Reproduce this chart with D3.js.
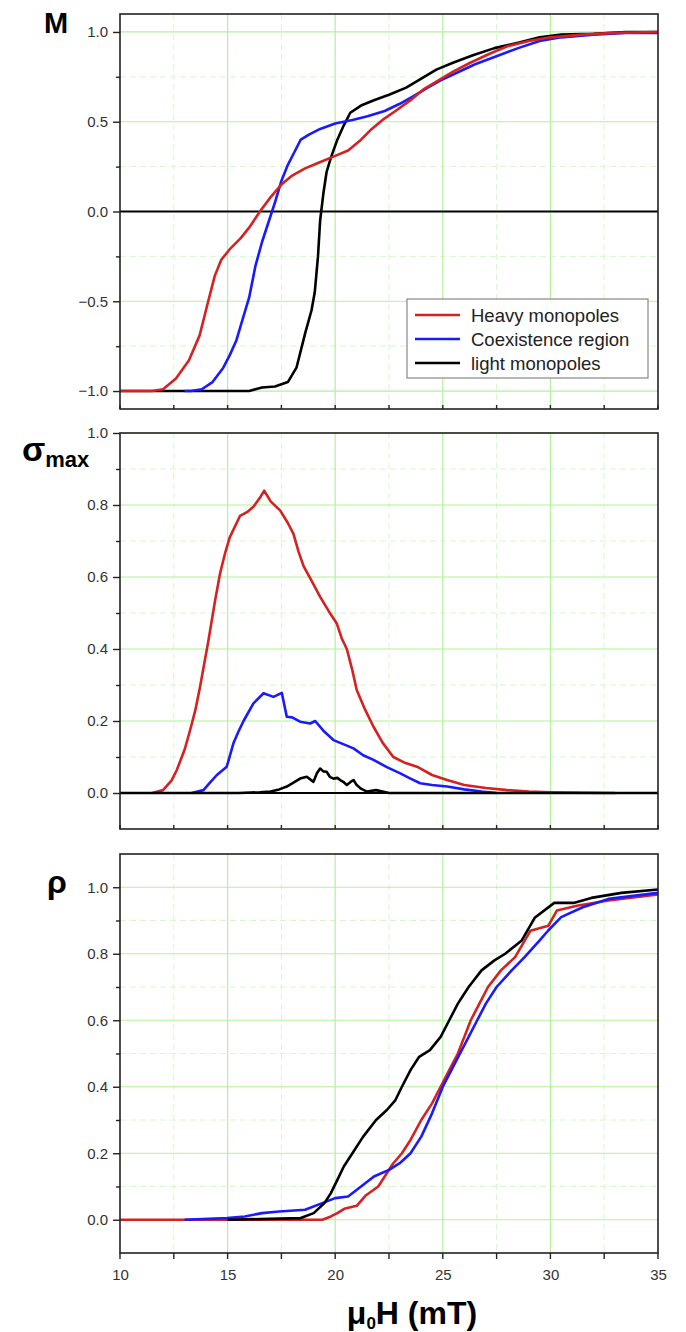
<!DOCTYPE html>
<html>
<head>
<meta charset="utf-8">
<script src="https://cdnjs.cloudflare.com/ajax/libs/d3/7.8.5/d3.min.js"></script>
<style>
  body { margin: 0; background: #fff; }
  svg text { font-family: Arial, "Liberation Sans", sans-serif; }
</style>
</head>
<body>
<div id="chart"></div>
<script>
// Series names and colours (legend order)
var seriesNames = ['Heavy monopoles', 'Coexistence region', 'light monopoles'];
var seriesColors = ['#d42222', '#1a1aff', '#000000'];

// Magnetisation M vs field (mT)
var mHeavy = [[10,-1],[11.5,-1],[12.0,-0.99],[12.6,-0.93],[13.2,-0.83],[13.7,-0.69],[14.1,-0.5],[14.4,-0.36],[14.7,-0.27],[15.1,-0.21],[15.6,-0.15],[16.0,-0.09],[16.5,0.0],[17.0,0.08],[17.5,0.15],[18.0,0.2],[18.6,0.24],[19.2,0.27],[20.0,0.31],[20.6,0.34],[21.2,0.4],[21.7,0.46],[22.2,0.51],[22.8,0.56],[23.5,0.62],[24.1,0.68],[24.8,0.73],[25.5,0.78],[26.3,0.83],[27.2,0.88],[28.0,0.92],[29.0,0.95],[30.0,0.97],[31.5,0.985],[33,0.995],[35,1.0]];
var mCoex = [[13.0,-1],[13.3,-1],[13.8,-0.99],[14.3,-0.95],[14.8,-0.87],[15.1,-0.8],[15.4,-0.72],[15.7,-0.6],[16.0,-0.48],[16.3,-0.3],[16.6,-0.17],[16.9,-0.06],[17.2,0.05],[17.5,0.17],[17.8,0.26],[18.1,0.33],[18.4,0.4],[18.8,0.43],[19.3,0.46],[20.0,0.49],[20.8,0.51],[21.5,0.53],[22.3,0.56],[23.0,0.6],[23.6,0.64],[24.3,0.69],[24.9,0.73],[25.6,0.77],[26.5,0.82],[27.4,0.86],[28.5,0.91],[29.5,0.95],[30.5,0.97],[32,0.985],[33.5,0.995],[35,0.995]];
var mLight = [[10,-1],[16.0,-1],[16.6,-0.98],[17.2,-0.975],[17.8,-0.95],[18.2,-0.87],[18.6,-0.68],[18.9,-0.55],[19.05,-0.45],[19.2,-0.25],[19.3,-0.05],[19.45,0.1],[19.6,0.22],[19.8,0.3],[20.1,0.4],[20.4,0.48],[20.7,0.55],[21.2,0.59],[21.8,0.62],[22.5,0.65],[23.3,0.69],[24.0,0.74],[24.7,0.79],[25.5,0.83],[26.4,0.87],[27.4,0.91],[28.5,0.94],[29.5,0.97],[30.5,0.985],[32,0.99],[33.5,1.0],[35,1.0]];

// sigma_max vs field
var sHeavy = [[11.5,0],[12.0,0.008],[12.4,0.035],[12.64,0.064],[13.0,0.12],[13.26,0.175],[13.5,0.23],[13.72,0.295],[14.1,0.42],[14.42,0.535],[14.65,0.61],[14.9,0.67],[15.1,0.71],[15.58,0.77],[15.9,0.78],[16.2,0.795],[16.5,0.82],[16.7,0.84],[17.0,0.81],[17.44,0.785],[17.8,0.75],[18.06,0.72],[18.3,0.67],[18.53,0.63],[18.9,0.59],[19.3,0.545],[19.7,0.505],[20.08,0.47],[20.3,0.43],[20.54,0.4],[20.8,0.34],[21.0,0.286],[21.4,0.23],[21.78,0.184],[22.2,0.14],[22.7,0.1],[23.2,0.085],[23.8,0.073],[24.5,0.05],[25.2,0.036],[26,0.022],[27,0.014],[28,0.008],[29,0.004],[30,0.002],[31,0.001],[33,0]];
var sCoex = [[13.33,0],[13.88,0.008],[14.2,0.03],[14.5,0.05],[14.96,0.073],[15.27,0.138],[15.5,0.17],[15.74,0.2],[16.2,0.249],[16.67,0.277],[17.13,0.267],[17.52,0.278],[17.75,0.212],[18.0,0.21],[18.37,0.198],[18.84,0.193],[19.07,0.2],[19.5,0.17],[19.92,0.147],[20.4,0.135],[20.85,0.124],[21.3,0.105],[21.78,0.092],[22.4,0.072],[23.0,0.055],[23.5,0.04],[23.95,0.027],[24.5,0.022],[25.2,0.018],[26,0.01],[26.8,0.004],[27.5,0]];
var sLight = [[10,0],[15.5,0],[16.5,0.002],[17.0,0.004],[17.4,0.01],[17.75,0.018],[18.1,0.03],[18.37,0.04],[18.68,0.045],[18.99,0.031],[19.15,0.055],[19.3,0.068],[19.45,0.06],[19.6,0.059],[19.75,0.045],[19.92,0.04],[20.1,0.042],[20.23,0.036],[20.4,0.03],[20.54,0.022],[20.7,0.03],[20.85,0.036],[21.0,0.022],[21.2,0.012],[21.47,0.004],[21.9,0.008],[22.5,0],[35,0]];

// rho vs field
var rHeavy = [[10,0],[19.4,0],[19.8,0.01],[20.1,0.02],[20.42,0.033],[21.0,0.042],[21.4,0.072],[22.0,0.1],[22.3,0.13],[22.7,0.17],[23.1,0.2],[23.5,0.24],[24.0,0.3],[24.5,0.35],[24.9,0.4],[25.3,0.45],[25.7,0.5],[26.0,0.55],[26.3,0.6],[26.7,0.65],[27.1,0.7],[27.7,0.75],[28.36,0.79],[29.07,0.869],[29.9,0.884],[30.3,0.93],[31.29,0.945],[32.7,0.96],[35,0.978]];
var rCoex = [[13,0],[14.97,0.005],[15.8,0.01],[16.6,0.02],[17.4,0.025],[18.6,0.03],[19.4,0.05],[20.0,0.065],[20.6,0.07],[21.2,0.1],[21.8,0.13],[22.5,0.15],[23.0,0.17],[23.5,0.2],[24.0,0.25],[24.5,0.32],[25.0,0.4],[25.4,0.45],[25.8,0.5],[26.2,0.55],[26.6,0.6],[27.0,0.65],[27.5,0.7],[28.2,0.75],[28.8,0.79],[29.5,0.84],[29.9,0.87],[30.5,0.91],[31.5,0.94],[32.7,0.965],[35,0.983]];
var rLight = [[15,0],[16.5,0.002],[18.4,0.005],[19.0,0.02],[19.5,0.05],[19.8,0.08],[20.1,0.12],[20.4,0.16],[20.8,0.2],[21.3,0.25],[21.9,0.3],[22.4,0.33],[22.8,0.36],[23.1,0.4],[23.5,0.45],[23.9,0.49],[24.4,0.51],[24.9,0.55],[25.3,0.6],[25.7,0.65],[26.2,0.7],[26.8,0.75],[27.4,0.78],[27.9,0.8],[28.67,0.84],[29.27,0.908],[30.18,0.953],[31.08,0.953],[31.9,0.968],[33.3,0.983],[35,0.993]];

// Tick values
var xTicks = [10, 15, 20, 25, 30, 35];
var xMinor = [12.5, 17.5, 22.5, 27.5, 32.5];
var mTicks = [-1.0, -0.5, 0.0, 0.5, 1.0];
var mMinor = [-0.75, -0.25, 0.25, 0.75];
var sTicks = [0.0, 0.2, 0.4, 0.6, 0.8, 1.0];
var sMinor = [0.1, 0.3, 0.5, 0.7, 0.9];
var rTicks = [0.0, 0.2, 0.4, 0.6, 0.8, 1.0];
var rMinor = [0.1, 0.3, 0.5, 0.7, 0.9];

var svgWidth = 686, svgHeight = 1332;
var left = 120, right = 658;

var svg = d3.select('#chart')
  .append('svg')
    .attr('width', svgWidth)
    .attr('height', svgHeight);

svg.append('rect').attr('width', svgWidth).attr('height', svgHeight).attr('fill', '#fff');

var x = d3.scaleLinear().domain([10, 35]).range([left, right]);

// panel list: domain, pixel range, ticks, series (drawn in order), zero line
var panels = [
  {domain: [-1.1, 1.1], range: [409, 14], ticks: mTicks, minor: mMinor, series: [mLight, mCoex, mHeavy], order: [2, 1, 0], zero: true},
  {domain: [-0.1, 1.0], range: [829, 433], ticks: sTicks, minor: sMinor, series: [sHeavy, sCoex, sLight], order: [0, 1, 2], zero: true},
  {domain: [-0.1, 1.1], range: [1253, 854], ticks: rTicks, minor: rMinor, series: [rHeavy, rCoex, rLight], order: [0, 1, 2], zero: false}
];

var line = d3.line();

panels.forEach(function(p, i) {
  var y = d3.scaleLinear().domain(p.domain).range(p.range);
  var g = svg.append('g');
  var top = p.range[1], bottom = p.range[0];

  // minor (dashed) grid
  g.selectAll('.vminor').data(xMinor).enter().append('line')
    .attr('x1', function(d) { return x(d); }).attr('x2', function(d) { return x(d); })
    .attr('y1', top).attr('y2', bottom)
    .attr('stroke', '#d6f7cc').attr('stroke-width', 1).attr('stroke-dasharray', '6,4');
  g.selectAll('.hminor').data(p.minor).enter().append('line')
    .attr('x1', left).attr('x2', right)
    .attr('y1', function(d) { return y(d); }).attr('y2', function(d) { return y(d); })
    .attr('stroke', '#d6f7cc').attr('stroke-width', 1).attr('stroke-dasharray', '6,4');

  // major grid
  g.selectAll('.vmajor').data(xTicks.slice(1, -1)).enter().append('line')
    .attr('x1', function(d) { return x(d); }).attr('x2', function(d) { return x(d); })
    .attr('y1', top).attr('y2', bottom)
    .attr('stroke', '#b2f29a').attr('stroke-width', 1.2);
  g.selectAll('.hmajor').data(p.ticks).enter().append('line')
    .attr('x1', left).attr('x2', right)
    .attr('y1', function(d) { return y(d); }).attr('y2', function(d) { return y(d); })
    .attr('stroke', '#b2f29a').attr('stroke-width', 1.2);

  if (p.zero) {
    g.append('line')
      .attr('x1', left).attr('x2', right)
      .attr('y1', y(0)).attr('y2', y(0))
      .attr('stroke', '#000').attr('stroke-width', 1.8);
  }

  // curves
  p.order.forEach(function(k, j) {
    g.append('path')
      .datum(p.series[j])
      .attr('d', line.x(function(d) { return x(d[0]); }).y(function(d) { return y(d[1]); }))
      .attr('fill', 'none')
      .attr('stroke', seriesColors[k])
      .attr('stroke-width', 2.6)
      .attr('stroke-linejoin', 'round');
  });

  // frame
  g.append('rect')
    .attr('x', left).attr('y', top)
    .attr('width', right - left).attr('height', bottom - top)
    .attr('fill', 'none').attr('stroke', '#222').attr('stroke-width', 1.6);

  // bottom ticks on frame
  g.selectAll('.btick').data(xTicks.concat(xMinor)).enter().append('line')
    .attr('x1', function(d) { return x(d); }).attr('x2', function(d) { return x(d); })
    .attr('y1', bottom).attr('y2', i === 2 ? bottom + 6 : bottom - 4)
    .attr('stroke', '#222').attr('stroke-width', 1.4);

  // left axis
  var axis = g.append('g')
    .attr('transform', 'translate(' + left + ',0)')
    .call(d3.axisLeft(y).tickValues(p.ticks).tickSize(7).tickPadding(5).tickFormat(d3.format('.1f')));
  axis.select('.domain').remove();
  axis.selectAll('line').attr('stroke', '#222').attr('stroke-width', 1.4);
  axis.selectAll('text').attr('font-size', 15).attr('fill', '#333')
    .attr('font-family', 'Arial, "Liberation Sans", sans-serif');

  var minorAxis = g.append('g')
    .attr('transform', 'translate(' + left + ',0)')
    .call(d3.axisLeft(y).tickValues(p.minor).tickSize(4).tickFormat(''));
  minorAxis.select('.domain').remove();
  minorAxis.selectAll('line').attr('stroke', '#222').attr('stroke-width', 1.4);
});

// x axis labels on the bottom panel
var xAxis = svg.append('g')
  .attr('transform', 'translate(0,1253)')
  .call(d3.axisBottom(x).tickValues(xTicks).tickSize(0).tickPadding(16).tickFormat(d3.format('d')));
xAxis.select('.domain').remove();
xAxis.selectAll('text').attr('font-size', 15).attr('fill', '#333')
  .attr('font-family', 'Arial, "Liberation Sans", sans-serif');

// axis titles
svg.append('text')
  .attr('x', 44).attr('y', 33)
  .attr('font-size', 29).attr('font-weight', 'bold')
  .text('M');

var sig = svg.append('text')
  .attr('x', 22).attr('y', 461)
  .attr('font-weight', 'bold');
sig.append('tspan').attr('font-size', 34).text('σ');
sig.append('tspan').attr('font-size', 22).attr('dy', 6).text('max');

svg.append('text')
  .attr('x', 47).attr('y', 893)
  .attr('font-size', 32).attr('font-weight', 'bold')
  .text('ρ');

var xt = svg.append('text')
  .attr('x', 412).attr('y', 1324)
  .attr('text-anchor', 'middle')
  .attr('font-weight', 'bold');
xt.append('tspan').attr('font-size', 32).text('μ');
xt.append('tspan').attr('font-size', 17).attr('dy', 5).text('0');
xt.append('tspan').attr('font-size', 32).attr('dy', -5).text('H (mT)');

// legend
var legend = svg.append('g');
legend.append('rect')
  .attr('x', 407).attr('y', 299).attr('width', 241).attr('height', 79)
  .attr('fill', '#fff').attr('stroke', '#888').attr('stroke-width', 1.2);
seriesNames.forEach(function(name, k) {
  var ly = 315 + k * 24;
  legend.append('line')
    .attr('x1', 415).attr('x2', 460).attr('y1', ly).attr('y2', ly)
    .attr('stroke', seriesColors[k]).attr('stroke-width', 2.6);
  legend.append('text')
    .attr('x', 471).attr('y', ly + 6.5)
    .attr('font-size', 18.5).attr('fill', '#222')
    .text(name);
});
</script>
</body>
</html>
